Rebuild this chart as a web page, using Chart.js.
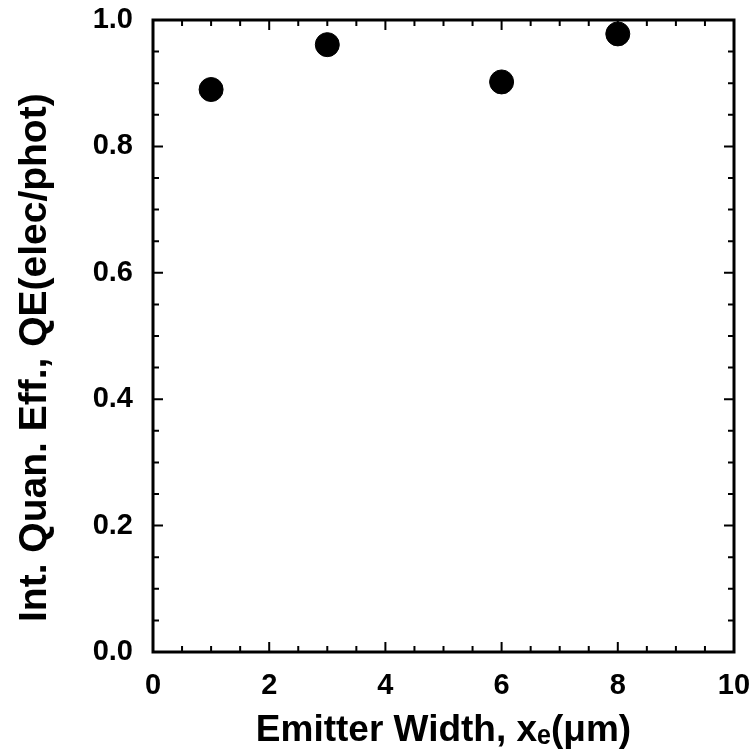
<!DOCTYPE html>
<html>
<head>
<meta charset="utf-8">
<script src="https://cdn.jsdelivr.net/npm/chart.js@4.4.1/dist/chart.umd.min.js"></script>
<style>
  body { margin: 0; background: #fff; }
  #wrap { width: 751px; height: 753px; }
</style>
</head>
<body>
<div id="wrap"><canvas id="qeChart"></canvas></div>
<script>
// emitter width (um) vs internal quantum efficiency
const emitterWidth = [1, 3, 6, 8];
const quantumEff = [0.89, 0.961, 0.902, 0.978];

const xTickValues = [0, 2, 4, 6, 8, 10];
const yTickValues = [0, 0.2, 0.4, 0.6, 0.8, 1.0];
const xMinorStep = 0.5;
const yMinorStep = 0.05;

// frame + inward ticks on all four sides
const frameTicks = {
  id: 'frameTicks',
  beforeDatasetsDraw(chart) {
    const {ctx, chartArea: a, scales: {x, y}} = chart;
    ctx.save();
    ctx.strokeStyle = '#000';
    ctx.lineWidth = 2;
    for (let v = x.min; v <= x.max + 1e-9; v += xMinorStep) {
      const px = x.getPixelForValue(v);
      const len = xTickValues.some(t => Math.abs(t - v) < 1e-6) ? 10 : 6;
      ctx.beginPath();
      ctx.moveTo(px, a.bottom); ctx.lineTo(px, a.bottom - len);
      ctx.moveTo(px, a.top); ctx.lineTo(px, a.top + len);
      ctx.stroke();
    }
    for (let v = y.min; v <= y.max + 1e-9; v += yMinorStep) {
      const py = y.getPixelForValue(v);
      const len = yTickValues.some(t => Math.abs(t - v) < 1e-6) ? 10 : 6;
      ctx.beginPath();
      ctx.moveTo(a.left, py); ctx.lineTo(a.left + len, py);
      ctx.moveTo(a.right, py); ctx.lineTo(a.right - len, py);
      ctx.stroke();
    }
    ctx.lineWidth = 3;
    ctx.strokeRect(a.left, a.top, a.right - a.left, a.bottom - a.top);
    ctx.restore();
  }
};

const noPad = s => { s.paddingTop = 0; s.paddingBottom = 0; s.paddingLeft = 0; s.paddingRight = 0 };

new Chart(document.getElementById('qeChart'), {
  type: 'scatter',
  data: {
    datasets: [{
      data: emitterWidth.map((w, i) => ({x: w, y: quantumEff[i]})),
      backgroundColor: '#000',
      borderColor: '#000',
      pointRadius: 12,
      pointHoverRadius: 12,
      clip: false
    }]
  },
  options: {
    responsive: true,
    maintainAspectRatio: false,
    animation: false,
    layout: { padding: { top: 20, right: 17, left: 0, bottom: 0 } },
    plugins: { legend: { display: false }, tooltip: { enabled: false } },
    scales: {
      x: {
        type: 'linear',
        min: 0, max: 10,
        afterBuildTicks: s => { s.ticks = xTickValues.map(v => ({value: v})) },
        afterFit: s => { s.height = 101; noPad(s) },
        grid: { display: false },
        border: { display: false },
        ticks: {
          padding: 9,
          maxRotation: 0,
          color: '#000',
          font: { family: 'Liberation Sans', size: 29, weight: 'bold' },
          callback: v => String(v)
        },
        title: {
          display: true,
          text: 'Emitter Width, xₑ(μm)',
          color: '#000',
          font: { family: 'Liberation Sans', size: 37, weight: 'bold', lineHeight: 1 },
          padding: { top: 0, bottom: 4 }
        }
      },
      y: {
        type: 'linear',
        min: 0, max: 1,
        afterBuildTicks: s => { s.ticks = yTickValues.map(v => ({value: v})) },
        afterFit: s => { s.width = 153; noPad(s) },
        grid: { display: false },
        border: { display: false },
        ticks: {
          padding: 12,
          color: '#000',
          font: { family: 'Liberation Sans', size: 29, weight: 'bold' },
          callback: v => v.toFixed(1)
        },
        title: {
          display: true,
          text: 'Int. Quan. Eff., QE(elec/phot)    ',
          color: '#000',
          font: { family: 'Liberation Sans', size: 39, weight: 'bold', lineHeight: 1 },
          padding: { top: 16, bottom: 0 }
        }
      }
    }
  },
  plugins: [frameTicks]
});
</script>
</body>
</html>
